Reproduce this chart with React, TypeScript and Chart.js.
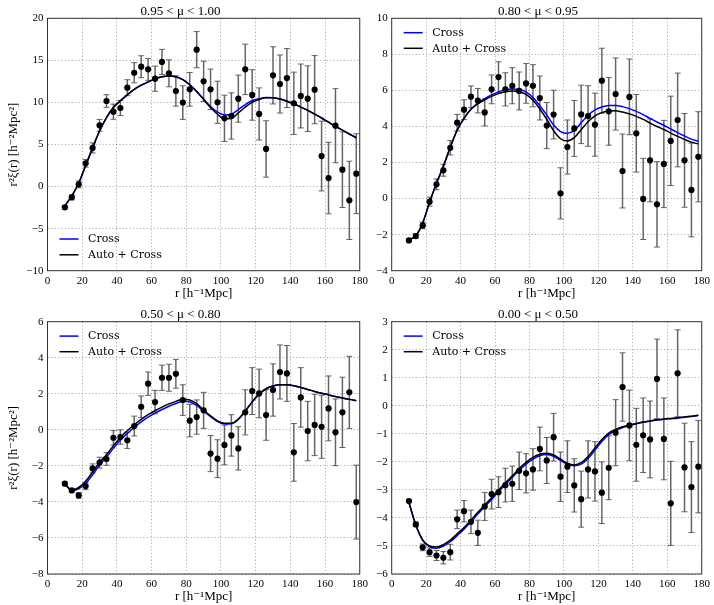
import React, { useEffect, useRef } from 'react';
import { Chart, registerables } from 'chart.js';
Chart.register(...registerables);

// separation r (h^-1 Mpc)
const R = [10, 14, 18, 22, 26, 30, 34, 38, 42, 46, 50, 54, 58, 62, 66, 70, 74, 78, 82, 86, 90, 94, 98, 102, 106, 110, 114, 118, 122, 126, 130, 134, 138, 142, 146, 150, 154, 158, 162, 166, 170, 174, 178];

const X_TICK_STEP = 20;
const LEGEND_LABELS = ['Cross', 'Auto + Cross'];
const TITLES = ['0.95 < μ < 1.00', '0.80 < μ < 0.95', '0.50 < μ < 0.80', '0.00 < μ < 0.50'];
const Y_RANGES = [[-10, 20, 5], [-4, 10, 2], [-8, 6, 2], [-6, 3, 1]];

// Panel 1: 0.95 < mu < 1.00
const data1 = [-2.47, -1.28, 0.27, 2.76, 4.59, 7.28, 10.17, 8.9, 9.34, 11.75, 13.53, 14.25, 13.93, 12.82, 14.81, 13.46, 11.36, 9.98, 11.56, 16.27, 12.51, 11.56, 10.02, 8.11, 8.39, 10.45, 13.93, 10.89, 8.63, 4.47, 13.22, 12.19, 12.9, 9.9, 10.77, 10.45, 11.52, 3.63, 1.01, 7.24, 2.01, -1.64, 1.53];
const err1 = [0.2, 0.3, 0.4, 0.45, 0.6, 0.7, 0.75, 0.9, 0.9, 0.95, 1.2, 1.3, 1.3, 1.5, 1.5, 1.6, 1.8, 2.0, 2.0, 2.15, 2.4, 2.4, 2.5, 2.75, 2.75, 2.8, 3.0, 3.0, 3.1, 3.35, 3.4, 3.45, 3.5, 3.7, 3.8, 3.9, 4.05, 4.15, 4.25, 4.4, 4.5, 4.65, 4.75];
const cross1 = [-2.3, -1.1, 0.4, 2.5, 4.6, 6.6, 8.2, 9.4, 10.2, 10.9, 11.55, 12.05, 12.45, 12.8, 13.05, 13.15, 13.05, 12.7, 12.1, 11.3, 10.4, 9.5, 8.85, 8.5, 8.6, 9.15, 9.75, 10.2, 10.45, 10.6, 10.55, 10.4, 10.15, 9.85, 9.45, 9.05, 8.6, 8.15, 7.65, 7.15, 6.7, 6.25, 5.8];
const auto1 = [-2.3, -1.1, 0.4, 2.5, 4.6, 6.6, 8.2, 9.4, 10.2, 10.9, 11.55, 12.05, 12.45, 12.8, 13.05, 13.15, 13.05, 12.7, 12.1, 11.3, 10.35, 9.4, 8.6, 8.05, 8.1, 8.75, 9.45, 10.0, 10.35, 10.55, 10.55, 10.4, 10.15, 9.85, 9.45, 9.05, 8.6, 8.15, 7.65, 7.15, 6.7, 6.25, 5.8];

// Panel 2: 0.80 < mu < 0.95
const data2 = [-2.32, -2.08, -1.49, -0.17, 0.79, 1.57, 2.82, 4.21, 4.93, 5.65, 5.43, 4.78, 6.06, 6.74, 6.06, 6.26, 5.97, 6.39, 6.26, 5.58, 4.05, 4.66, 0.29, 2.86, 3.89, 4.67, 4.58, 4.1, 6.54, 4.84, 5.8, 1.53, 5.64, 3.62, -0.02, 2.12, -0.32, 1.92, 3.2, 4.36, 2.12, 0.48, 2.32];
const err2 = [0.08, 0.12, 0.18, 0.25, 0.3, 0.33, 0.4, 0.46, 0.55, 0.6, 0.68, 0.75, 0.8, 0.85, 0.92, 1.0, 1.05, 1.1, 1.17, 1.22, 1.28, 1.35, 1.42, 1.5, 1.55, 1.62, 1.68, 1.75, 1.8, 1.88, 2.0, 2.05, 2.1, 2.15, 2.25, 2.3, 2.37, 2.42, 2.48, 2.6, 2.6, 2.6, 2.5];
const cross2 = [-2.3, -2.05, -1.35, -0.2, 0.85, 1.8, 2.85, 3.8, 4.45, 4.95, 5.3, 5.55, 5.75, 5.92, 6.03, 6.08, 6.05, 5.92, 5.6, 5.15, 4.64, 4.08, 3.72, 3.62, 3.78, 4.2, 4.62, 4.92, 5.08, 5.16, 5.17, 5.1, 4.99, 4.84, 4.66, 4.45, 4.25, 4.07, 3.86, 3.66, 3.47, 3.3, 3.18];
const auto2 = [-2.3, -2.05, -1.35, -0.2, 0.85, 1.8, 2.85, 3.8, 4.45, 4.95, 5.25, 5.48, 5.67, 5.82, 5.93, 5.97, 5.93, 5.78, 5.45, 4.97, 4.4, 3.76, 3.32, 3.2, 3.38, 3.82, 4.26, 4.59, 4.77, 4.86, 4.87, 4.8, 4.7, 4.56, 4.39, 4.19, 4.0, 3.83, 3.63, 3.45, 3.28, 3.13, 3.03];

// Panel 3: 0.50 < mu < 0.80
const data3 = [-2.99, -3.36, -3.64, -3.12, -2.14, -1.82, -1.62, -0.44, -0.4, -0.58, 0.21, 1.28, 2.56, 1.54, 2.89, 2.89, 3.11, 1.65, 0.51, 0.71, 1.08, -1.32, -1.6, -0.84, -0.31, -1.03, 0.97, 2.15, 2.02, 0.82, 2.21, 3.21, 3.13, -1.25, 1.8, -0.07, 0.27, 0.17, 1.19, -0.14, 0.97, 2.08, -4.01];
const err3 = [0.1, 0.1, 0.15, 0.2, 0.25, 0.3, 0.35, 0.4, 0.4, 0.45, 0.55, 0.6, 0.65, 0.65, 0.7, 0.75, 0.8, 0.85, 0.9, 0.95, 1.0, 1.0, 1.05, 1.1, 1.15, 1.2, 1.25, 1.3, 1.35, 1.4, 1.45, 1.5, 1.55, 1.6, 1.65, 1.65, 1.7, 1.75, 1.8, 1.85, 1.95, 2.0, 2.05];
const cross3 = [-3.0, -3.35, -3.27, -2.98, -2.5, -1.95, -1.52, -1.03, -0.57, -0.2, 0.13, 0.44, 0.7, 0.93, 1.13, 1.31, 1.46, 1.58, 1.55, 1.36, 1.03, 0.73, 0.46, 0.33, 0.34, 0.58, 1.03, 1.55, 1.98, 2.28, 2.43, 2.5, 2.5, 2.45, 2.35, 2.24, 2.13, 2.03, 1.94, 1.85, 1.77, 1.69, 1.62];
const auto3 = [-3.0, -3.35, -3.2, -2.85, -2.35, -1.8, -1.38, -0.88, -0.42, -0.05, 0.28, 0.58, 0.84, 1.06, 1.26, 1.44, 1.58, 1.7, 1.66, 1.45, 1.1, 0.78, 0.5, 0.36, 0.36, 0.6, 1.05, 1.55, 1.98, 2.28, 2.43, 2.5, 2.5, 2.45, 2.35, 2.24, 2.13, 2.03, 1.94, 1.85, 1.77, 1.69, 1.62];

// Panel 4: 0.00 < mu < 0.50
const data4 = [-3.4, -4.23, -5.05, -5.22, -5.34, -5.42, -5.22, -4.05, -3.76, -4.14, -4.53, -3.59, -3.15, -3.08, -2.83, -2.78, -2.32, -2.41, -2.27, -1.54, -1.95, -1.12, -2.53, -2.17, -2.84, -3.33, -2.27, -2.34, -3.1, -2.21, -0.96, 0.67, -0.7, -1.39, -1.05, -1.2, 0.96, -1.18, -3.48, 1.16, -2.2, -2.9, -2.17];
const err4 = [0.05, 0.08, 0.12, 0.15, 0.18, 0.22, 0.28, 0.33, 0.38, 0.42, 0.45, 0.5, 0.53, 0.55, 0.6, 0.63, 0.67, 0.7, 0.74, 0.78, 0.82, 0.85, 0.88, 0.92, 0.95, 1.0, 1.02, 1.06, 1.1, 1.14, 1.18, 1.22, 1.26, 1.3, 1.33, 1.37, 1.42, 1.46, 1.5, 1.55, 1.58, 1.62, 1.65];
const cross4 = [-3.45, -4.25, -4.8, -5.03, -5.08, -5.0, -4.85, -4.63, -4.4, -4.14, -3.86, -3.6, -3.34, -3.07, -2.81, -2.56, -2.3, -2.08, -1.9, -1.78, -1.74, -1.8, -1.95, -2.09, -2.14, -2.08, -1.88, -1.58, -1.27, -1.03, -0.88, -0.78, -0.7, -0.64, -0.59, -0.55, -0.51, -0.48, -0.46, -0.44, -0.41, -0.38, -0.35];
const auto4 = [-3.45, -4.25, -4.78, -5.0, -5.04, -4.95, -4.79, -4.57, -4.34, -4.08, -3.8, -3.54, -3.28, -3.01, -2.75, -2.5, -2.24, -2.02, -1.84, -1.73, -1.69, -1.75, -1.9, -2.05, -2.11, -2.03, -1.81, -1.5, -1.2, -0.97, -0.84, -0.75, -0.68, -0.63, -0.58, -0.54, -0.5, -0.47, -0.45, -0.43, -0.4, -0.37, -0.34];

const SERIES = [
  { data: data1, err: err1, cross: cross1, auto: auto1 },
  { data: data2, err: err2, cross: cross2, auto: auto2 },
  { data: data3, err: err3, cross: cross3, auto: auto3 },
  { data: data4, err: err4, cross: cross4, auto: auto4 },
];

// layout of the four canvases
const LAYOUT = [
  { left: 0, top: 0, w: 372, h: 302, yW: 47.5, xH: 31.3, padR: 11, tTop: 5, tBot: 0.3, yTitle: true, legend: 'lower' },
  { left: 372, top: 0, w: 342, h: 302, yW: 19.7, xH: 31.3, padR: 10, tTop: 5, tBot: 0.3, yTitle: false, legend: 'upper' },
  { left: 0, top: 302, w: 372, h: 303, yW: 47.5, xH: 31, padR: 11, tTop: 6.5, tBot: 0.2, yTitle: true, legend: 'upper' },
  { left: 372, top: 302, w: 342, h: 303, yW: 19.7, xH: 31, padR: 10, tTop: 6.5, tBot: 0.2, yTitle: false, legend: 'upper' },
];

const SERIF = '"Liberation Serif", "DejaVu Serif", serif';
const ERR_COLOR = 'rgba(75,75,75,0.85)';

const minus = (v: number | string) => String(v).replace('-', '\u2212');

function mplPlugin(pos: string) {
  return {
    id: 'mplFrameLegend',
    afterDraw(chart: any) {
      const { ctx, chartArea } = chart;
      const { left, top, right, bottom } = chartArea;
      ctx.save();
      ctx.strokeStyle = '#333';
      ctx.lineWidth = 1;
      ctx.strokeRect(left, top, right - left, bottom - top);
      ctx.font = '11px "DejaVu Serif"';
      ctx.textBaseline = 'middle';
      ctx.textAlign = 'left';
      const items = chart.data.datasets.filter((d: any) => LEGEND_LABELS.includes(d.label));
      items.forEach((d: any, i: number) => {
        const y = pos === 'upper' ? top + 14.4 + i * 15.6 : bottom - 31.7 + i * 15.8;
        ctx.strokeStyle = d.borderColor;
        ctx.lineWidth = 1.5;
        ctx.beginPath();
        ctx.moveTo(left + 12, y);
        ctx.lineTo(left + 31, y);
        ctx.stroke();
        ctx.fillStyle = '#000';
        ctx.fillText(d.label, left + 40.5, y + 0.5);
      });
      ctx.restore();
    },
  };
}

function buildConfig(idx: number) {
  const s = SERIES[idx];
  const L = LAYOUT[idx];
  const [ymin, ymax, ystep] = Y_RANGES[idx];
  const bars: any[] = [];
  const caps: any[] = [];
  const pts: any[] = [];
  const blue: any[] = [];
  const black: any[] = [];
  R.forEach((r, i) => {
    const v = s.data[i];
    const e = s.err[i];
    bars.push({ x: r, y: v - e }, { x: r, y: v + e }, { x: r, y: null });
    caps.push({ x: r, y: v - e }, { x: r, y: v + e });
    pts.push({ x: r, y: v });
    blue.push({ x: r, y: s.cross[i] });
    black.push({ x: r, y: s.auto[i] });
  });

  const gridOpts = { color: 'rgba(0,0,0,0.4)', lineWidth: 0.8, drawTicks: false };
  const borderOpts = { display: false, dash: [1.2, 2.2] };

  return {
    type: 'line',
    data: {
      datasets: [
        { type: 'line', label: 'Cross', data: blue, borderColor: '#0000ff', borderWidth: 1.5, pointRadius: 0, pointHitRadius: 0, cubicInterpolationMode: 'monotone', fill: false, order: 2 },
        { type: 'line', label: 'Auto + Cross', data: black, borderColor: '#000000', borderWidth: 1.5, pointRadius: 0, pointHitRadius: 0, cubicInterpolationMode: 'monotone', fill: false, order: 1 },
        { type: 'scatter', label: 'data', data: pts, backgroundColor: '#000', borderColor: '#000', borderWidth: 0, pointRadius: 3.1, order: 0 },
        { type: 'line', label: 'err', data: bars, borderColor: ERR_COLOR, borderWidth: 1.5, pointRadius: 0, pointHitRadius: 0, spanGaps: false, tension: 0, fill: false, order: 4 },
        { type: 'scatter', label: 'caps', data: caps, pointStyle: 'line', pointRadius: 3, borderColor: ERR_COLOR, borderWidth: 1, order: 3 },
      ],
    },
    options: {
      animation: false,
      responsive: false,
      events: [],
      layout: { padding: { left: 0, right: L.padR, top: 0, bottom: 0 } },
      plugins: {
        legend: { display: false },
        tooltip: { enabled: false },
        title: {
          display: true,
          text: TITLES[idx],
          color: '#000',
          font: { family: SERIF, size: 13, weight: 'normal', lineHeight: 1 },
          padding: { top: L.tTop, bottom: L.tBot },
        },
      },
      scales: {
        x: {
          type: 'linear',
          min: 0,
          max: 180,
          afterFit: (sc: any) => { sc.height = L.xH; },
          ticks: { stepSize: X_TICK_STEP, autoSkip: false, padding: 4, color: '#000', font: { family: SERIF, size: 11 }, maxRotation: 0, callback: (v: any) => minus(v) },
          grid: gridOpts,
          border: borderOpts,
          title: { display: true, text: 'r [h⁻¹Mpc]', color: '#000', font: { family: SERIF, size: 13 }, padding: { top: 0, bottom: 0.2 } },
        },
        y: {
          type: 'linear',
          min: ymin,
          max: ymax,
          afterFit: (sc: any) => { sc.width = L.yW; },
          ticks: { stepSize: ystep, autoSkip: false, padding: 4, color: '#000', font: { family: SERIF, size: 11 }, callback: (v: any) => minus(v) },
          grid: gridOpts,
          border: borderOpts,
          title: { display: L.yTitle, text: 'r²ξ(r) [h⁻²Mpc²]', color: '#000', font: { family: SERIF, size: 13 }, padding: { top: 5.7, bottom: 0 } },
        },
      },
    },
    plugins: [mplPlugin(L.legend)],
  } as any;
}

function Panel({ idx }: { idx: number }) {
  const ref = useRef<HTMLCanvasElement>(null);
  const L = LAYOUT[idx];
  useEffect(() => {
    const chart = new Chart(ref.current as HTMLCanvasElement, buildConfig(idx));
    return () => chart.destroy();
  }, [idx]);
  return (
    <canvas
      ref={ref}
      width={L.w}
      height={L.h}
      style={{ position: 'absolute', left: L.left, top: L.top, width: L.w, height: L.h }}
    />
  );
}

export default function App() {
  return (
    <div style={{ position: 'absolute', left: 0, top: 0, width: 714, height: 605, background: '#fff', overflow: 'hidden' }}>
      {[0, 1, 2, 3].map((i) => (
        <Panel key={i} idx={i} />
      ))}
    </div>
  );
}
